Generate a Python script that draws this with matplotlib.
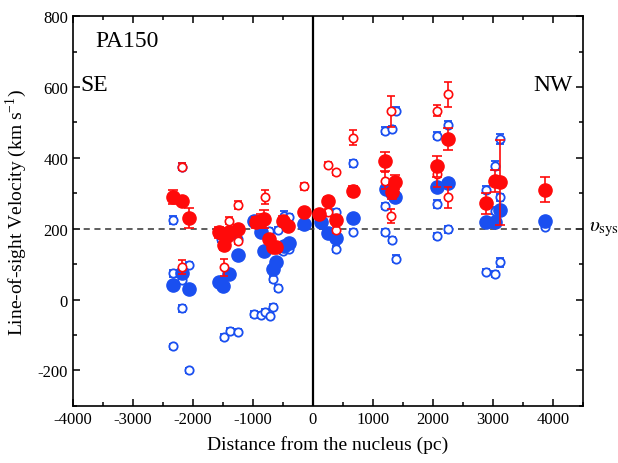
import numpy as np
import matplotlib
matplotlib.use("Agg")
import matplotlib.pyplot as plt
from matplotlib.ticker import MultipleLocator

plt.rcParams['font.family'] = ['Liberation Serif', 'DejaVu Serif']
plt.rcParams['mathtext.fontset'] = 'stix'
plt.rcParams['axes.unicode_minus'] = False

# blue filled points (no visible error bars)
bf_x = [-2335, -2180, -2058, -1558, -1492, -1392, -1253, -975, -863, -808, -670, -613,
        -475, -403, -153, 136, 247, 386, 675, 1220, 1375, 1320, 2064, 2258, 2886, 3042,
        3119, 3869]
bf_y = [41, 75, 30, 49, 39, 72, 126, 223, 190, 138, 86, 105,
        152, 160, 213, 220, 188, 173, 230, 312, 290, 300, 318, 328, 218, 220,
        254, 223]

# blue open points
bo_x = [-2337, -2337, -2058, -2180, -2180, -2337, -2058, -2180,
        -1475, -1380, -1253, -975, -863, -792, -713, -658, -670, -587,
        -475, -403, -587, -725, -492, -403, -1253, -1530, -1392,
        386, 386, 675, 675,
        1208, 1320, 1386, 1208, 1208, 1320, 1386,
        2064, 2258, 2064, 2258, 2064,
        2886, 3042, 3119, 3119, 3042, 2886, 3042, 3119,
        3869]
bo_y = [225, 75, 98, 55, -25, -132, -200, 375,
        -105, -88, -90, -41, -43, -34, -45, -20, 58, 32,
        237, 232, 196, 194, 138, 143, 170, 171, 190,
        246, 143, 192, 385,
        477, 481, 533, 265, 190, 169, 115,
        462, 493, 270, 199, 180,
        310, 378, 453, 289, 251, 79, 72, 105,
        206]
bo_err = [12, 10, 8, 8, 10, 8, 8, 10,
          8, 8, 8, 8, 8, 8, 8, 8, 8, 8,
          12, 10, 8, 8, 8, 8, 8, 8, 8,
          10, 8, 8, 10,
          10, 8, 10, 8, 8, 8, 10,
          10, 10, 10, 10, 8,
          10, 12, 15, 10, 10, 8, 8, 12,
          8]

# red filled points
rf_x = [-2337, -2180, -2058, -1558, -1503, -1475, -1430, -1392, -1253,
        -947, -860, -808, -725, -670, -613, -503, -420, -153,
        108, 247, 386, 675, 1208, 1320, 1375, 2064, 2258,
        2886, 3042, 3119, 3869]
rf_y = [290, 279, 230, 190, 185, 155, 180, 190, 199,
        218, 222, 227, 171, 148, 148, 223, 208, 246,
        241, 279, 225, 307, 390, 303, 331, 376, 453,
        272, 335, 331, 310]
rf_err = [20, 12, 28, 15, 15, 15, 12, 12, 12,
          15, 20, 25, 12, 12, 10, 12, 10, 10,
          10, 10, 12, 15, 28, 20, 20, 30, 30,
          30, 30, 120, 35]

# red open points
ro_x = [-2180, -2180, -1475, -1392, -1253, -1253, -792, -153,
        247, 386, 247, 386, 675, 1208, 1303, 1303,
        2064, 2258, 2064, 2258]
ro_y = [375, 92, 91, 223, 267, 166, 289, 320,
        381, 359, 246, 197, 457, 336, 531, 237,
        533, 580, 354, 289]
ro_err = [10, 20, 25, 10, 10, 10, 20, 10,
          8, 8, 10, 10, 22, 25, 45, 20,
          15, 35, 35, 30]

blue = '#1a4ff0'
red = '#ff0a0a'

fig = plt.figure(figsize=(6.18, 4.64), dpi=100)
ax = fig.add_axes([0.118, 0.123, 0.825, 0.840])

ax.errorbar(bo_x, bo_y, yerr=bo_err, fmt='o', ms=6, mfc='white', mec=blue, mew=1.3,
            ecolor=blue, elinewidth=1.2, capsize=3, capthick=1.2, zorder=3)
ax.plot(bf_x, bf_y, 'o', ms=9.5, color=blue, zorder=4)
ax.errorbar(ro_x, ro_y, yerr=ro_err, fmt='o', ms=6, mfc='white', mec=red, mew=1.2,
            ecolor=red, elinewidth=1.2, capsize=3, capthick=1.2, zorder=5)
ax.errorbar(rf_x, rf_y, yerr=rf_err, fmt='o', ms=9.5, color=red,
            ecolor=red, elinewidth=1.2, capsize=3.5, capthick=1.2, zorder=6)

ax.axvline(0, color='black', lw=1.6, zorder=2)
ax.axhline(200, color='#333333', lw=1.1, ls=(0, (4, 3)), zorder=2)
ax.text(1.012, (200 + 300) / 1100, r'$\upsilon_{\mathrm{sys}}$', transform=ax.transAxes,
        fontsize=15, va='center', ha='left')

ax.text(-3620, 730, 'PA150', fontsize=17, va='center')
ax.text(-3870, 607, 'SE', fontsize=17, va='center')
ax.text(4330, 607, 'NW', fontsize=17, va='center', ha='right')

ax.set_xlim(-4000, 4500)
ax.set_ylim(-300, 800)
ax.xaxis.set_major_locator(MultipleLocator(1000))
ax.xaxis.set_minor_locator(MultipleLocator(500))
ax.yaxis.set_major_locator(MultipleLocator(200))
ax.yaxis.set_minor_locator(MultipleLocator(100))
ax.tick_params(which='both', direction='in', top=True, right=True, width=1.1,
               labelsize=12)
ax.tick_params(which='major', length=5)
ax.tick_params(which='minor', length=3)
ax.set_yticks([-200, 0, 200, 400, 600, 800])
for s in ax.spines.values():
    s.set_linewidth(1.2)

ax.set_xlabel('Distance from the nucleus (pc)', fontsize=14, labelpad=6)
ax.set_ylabel(r'Line-of-sight Velocity (km s$^{\mathregular{-1}}$)', fontsize=14, labelpad=6)

fig.savefig('out.png', dpi=100)
